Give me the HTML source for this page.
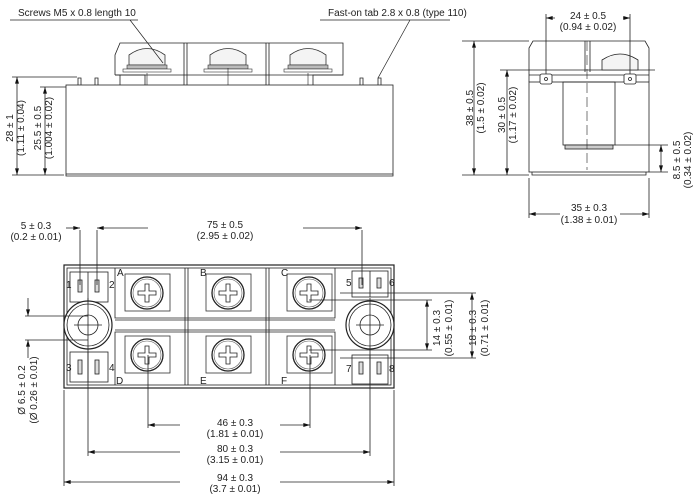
<!DOCTYPE html>
<html><head><style>
html,body{margin:0;padding:0;background:#fff}
svg{display:block}
text{font-family:"Liberation Sans",sans-serif;font-size:10px;fill:#222}
</style></head><body>
<svg width="700" height="502" viewBox="0 0 700 502" xmlns="http://www.w3.org/2000/svg">
<defs>
<marker id="a" viewBox="0 0 10 6" refX="10" refY="3" markerWidth="9" markerHeight="5" orient="auto-start-reverse"><path d="M0,0L10,3L0,6z" fill="#111"/></marker>
<g id="scr"><rect x="-22" y="-19" width="45" height="37" fill="#fff" stroke="#333" stroke-width="0.8"/><circle r="16" fill="#fff" stroke="#222" stroke-width="1.3"/><circle r="14" fill="none" stroke="#555" stroke-width="0.6"/><path d="M-2,-9h4v7h7v4h-7v7h-4v-7h-7v-4h7z" fill="#fff" stroke="#222" stroke-width="0.8"/></g>
<g id="dome"><path d="M-18,15 L-18,5 Q0,-8 18,5 L18,15Z" fill="#f4f4f4" stroke="#333" stroke-width="0.8"/><rect x="-20" y="15" width="40" height="4" fill="#bbb" stroke="#333" stroke-width="0.6"/><rect x="-24" y="19" width="48" height="3" fill="#fff" stroke="#333" stroke-width="0.6"/></g>
</defs>
<g stroke="#222" fill="none" stroke-width="0.8">
<path d="M115,75 L115,55 L120,43 L343,43 L343,55 L343,75 L115,75"/>
<path d="M184,43V85 M187,43V85 M266,43V85 M269,43V85"/>
<path d="M115,75h30v10 M343,75h-30v10 M120,75 L120,85"/>
<use href="#dome" x="147" y="50"/><use href="#dome" x="228" y="50"/><use href="#dome" x="308" y="50"/>
<path d="M147,73V85 M228,68V85 M308,73V85" stroke-width="0.6"/>
<path d="M78,85V78h3V85 M95,85V78h3V85 M360,85V78h3V85 M378,85V78h3V85"/>
<rect x="66" y="85" width="327" height="89" fill="#fff"/>
<path d="M66,174V176H393V174"/>
<path d="M10,20H138 M130,20 L163,63 M320,20H450 M410,20 L378,78" stroke-width="0.7"/>
<path d="M12,77H77 M40,87H66 M12,175H64"/>
<line x1="17" y1="77" x2="17" y2="175" marker-start="url(#a)" marker-end="url(#a)"/>
<line x1="45" y1="87" x2="45" y2="175" marker-start="url(#a)" marker-end="url(#a)"/>
<path d="M529,82V48L533,41H645L649,48V82"/>
<rect x="529" y="82" width="120" height="90" fill="#fff"/>
<path d="M532,172v3h114v-3"/>
<path d="M529,70h126 M529,75h120"/>
<rect x="563" y="82" width="52" height="63"/>
<rect x="565" y="145" width="48" height="4" fill="#ccc"/>
<path d="M587,41V170" stroke-dasharray="10,4" stroke-width="0.6"/>
<path d="M585,41V72 M590,41V72"/>
<path d="M602,70V60 Q620,48 638,60V70Z" fill="#f4f4f4"/>
<rect x="540" y="74" width="12" height="10" rx="2" fill="#fff"/><circle cx="546" cy="79" r="1.5"/>
<rect x="624" y="74" width="12" height="10" rx="2" fill="#fff"/><circle cx="630" cy="79" r="1.5"/>
<path d="M546,14V74 M630,14V74 M462,41H529 M500,70H529 M462,175H529 M615,145H668 M649,172H668 M529,178V218 M649,178V218"/>
<line x1="546" y1="18" x2="630" y2="18" marker-start="url(#a)" marker-end="url(#a)"/>
<line x1="474" y1="41" x2="474" y2="175" marker-start="url(#a)" marker-end="url(#a)"/>
<line x1="507" y1="70" x2="507" y2="175" marker-start="url(#a)" marker-end="url(#a)"/>
<line x1="661" y1="145" x2="661" y2="172" marker-start="url(#a)" marker-end="url(#a)"/>
<line x1="529" y1="214" x2="649" y2="214" marker-start="url(#a)" marker-end="url(#a)"/>
<rect x="64" y="265" width="330" height="123" fill="#fff" stroke-width="1.2"/>
<rect x="67" y="268" width="324" height="117"/>
<path d="M115,268V318H335V268 M115,385V332H335V385 M185,268V385 M188,268V385 M266,268V385 M269,268V385 M115,320H335 M115,330H335"/>
<use href="#scr" x="147" y="293"/><use href="#scr" x="228" y="293"/><use href="#scr" x="309" y="293"/>
<use href="#scr" x="147" y="355"/><use href="#scr" x="228" y="355"/><use href="#scr" x="309" y="355"/>
<rect x="70" y="272" width="38" height="30" fill="#fff"/><path d="M88,272V302"/>
<rect x="78" y="280" width="4" height="12" fill="#ddd"/><rect x="95" y="280" width="4" height="12" fill="#ddd"/>
<rect x="70" y="352" width="38" height="30" fill="#fff"/><path d="M88,352V382"/>
<rect x="78" y="360" width="4" height="14" fill="#ddd"/><rect x="95" y="360" width="4" height="14" fill="#ddd"/>
<rect x="352" y="271" width="36" height="26" fill="#fff"/><path d="M370,271V297"/>
<rect x="359" y="278" width="4" height="10" fill="#ddd"/><rect x="377" y="278" width="4" height="10" fill="#ddd"/>
<rect x="352" y="355" width="36" height="29" fill="#fff"/><path d="M370,355V384"/>
<rect x="359" y="362" width="4" height="12" fill="#ddd"/><rect x="377" y="362" width="4" height="12" fill="#ddd"/>
<circle cx="88" cy="325" r="24" fill="#fff" stroke-width="1.2"/><circle cx="88" cy="325" r="21"/><circle cx="88" cy="325" r="10"/>
<circle cx="370" cy="325" r="24" fill="#fff" stroke-width="1.2"/><circle cx="370" cy="325" r="21"/><circle cx="370" cy="325" r="10"/>
<path d="M74,325H102 M356,325H384"/>
<path d="M80,230V285 M97,230V285 M362,230V285 M88,298V456 M370,298V456 M148,355V428 M310,355V428 M64,390V486 M394,390V486"/>
<path d="M25,316H88 M25,340H88 M309,300H432 M309,350H432 M340,293H476 M340,358H476"/>
<line x1="66" y1="228" x2="80" y2="228" marker-end="url(#a)"/>
<line x1="97" y1="228" x2="362" y2="228" marker-start="url(#a)" marker-end="url(#a)"/>
<line x1="148" y1="425" x2="310" y2="425" marker-start="url(#a)" marker-end="url(#a)"/>
<line x1="88" y1="452" x2="370" y2="452" marker-start="url(#a)" marker-end="url(#a)"/>
<line x1="64" y1="482" x2="394" y2="482" marker-start="url(#a)" marker-end="url(#a)"/>
<line x1="28" y1="298" x2="28" y2="316" marker-end="url(#a)"/>
<line x1="28" y1="358" x2="28" y2="340" marker-end="url(#a)"/>
<line x1="427" y1="300" x2="427" y2="350" marker-start="url(#a)" marker-end="url(#a)"/>
<line x1="472" y1="293" x2="472" y2="358" marker-start="url(#a)" marker-end="url(#a)"/>
</g>
<g fill="#fff">
<rect x="148" y="219" width="155" height="22"/>
<rect x="180" y="417" width="100" height="22"/><rect x="180" y="444" width="100" height="22"/><rect x="180" y="474" width="100" height="22"/>
<rect x="560" y="205" width="60" height="22"/><rect x="555" y="10" width="68" height="22"/>
</g>
<text x="18" y="16">Screws M5 x 0.8 length 10</text>
<text x="328" y="16">Fast-on tab 2.8 x 0.8 (type 110)</text>
<g text-anchor="middle">
<text x="588" y="19">24 ± 0.5</text><text x="588" y="30">(0.94 ± 0.02)</text>
<text x="589" y="211">35 ± 0.3</text><text x="589" y="223">(1.38 ± 0.01)</text>
<text x="36" y="229">5 ± 0.3</text><text x="36" y="240">(0.2 ± 0.01)</text>
<text x="225" y="228">75 ± 0.5</text><text x="225" y="239">(2.95 ± 0.02)</text>
<text x="235" y="426">46 ± 0.3</text><text x="235" y="437">(1.81 ± 0.01)</text>
<text x="235" y="452">80 ± 0.3</text><text x="235" y="463">(3.15 ± 0.01)</text>
<text x="235" y="481">94 ± 0.3</text><text x="235" y="492">(3.7 ± 0.01)</text>
<text transform="translate(13,128) rotate(-90)">28 ± 1</text>
<text transform="translate(24,128) rotate(-90)">(1.11 ± 0.04)</text>
<text transform="translate(41,128) rotate(-90)">25.5 ± 0.5</text>
<text transform="translate(52,128) rotate(-90)">(1.004 ± 0.02)</text>
<text transform="translate(473,108) rotate(-90)">38 ± 0.5</text>
<text transform="translate(484,108) rotate(-90)">(1.5 ± 0.02)</text>
<text transform="translate(505,115) rotate(-90)">30 ± 0.5</text>
<text transform="translate(516,115) rotate(-90)">(1.17 ± 0.02)</text>
<text transform="translate(680,160) rotate(-90)">8.5 ± 0.5</text>
<text transform="translate(691,160) rotate(-90)">(0.34 ± 0.02)</text>
<text transform="translate(25,390) rotate(-90)">Ø 6.5 ± 0.2</text>
<text transform="translate(37,390) rotate(-90)">(Ø 0.26 ± 0.01)</text>
<text transform="translate(440,328) rotate(-90)">14 ± 0.3</text>
<text transform="translate(452,328) rotate(-90)">(0.55 ± 0.01)</text>
<text transform="translate(476,328) rotate(-90)">18 ± 0.3</text>
<text transform="translate(488,328) rotate(-90)">(0.71 ± 0.01)</text>
</g>
<g>
<text x="117" y="276">A</text><text x="200" y="276">B</text><text x="281" y="276">C</text>
<text x="116" y="384">D</text><text x="200" y="384">E</text><text x="281" y="384">F</text>
<text x="66" y="288">1</text><text x="109" y="288">2</text><text x="66" y="371">3</text><text x="109" y="371">4</text>
<text x="346" y="286">5</text><text x="389" y="286">6</text><text x="346" y="372">7</text><text x="389" y="372">8</text>
</g>
</svg>
</body></html>
